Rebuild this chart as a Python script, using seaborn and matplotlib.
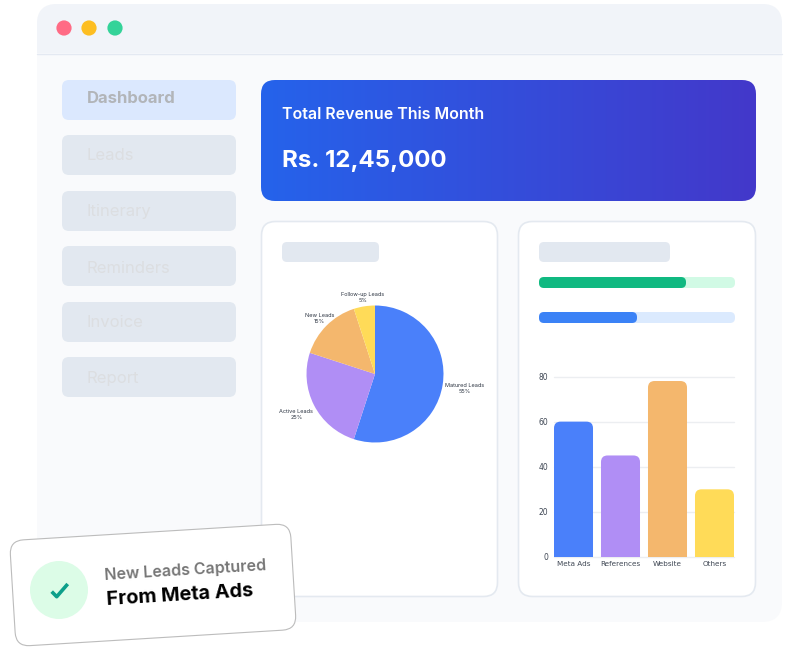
import numpy as np
import matplotlib
matplotlib.use('Agg')
import matplotlib.pyplot as plt
import seaborn as sns
from matplotlib.patches import FancyBboxPatch, Circle, Rectangle
from matplotlib.transforms import Affine2D

# data
menu_items = ['Dashboard', 'Leads', 'Itinerary', 'Reminders', 'Invoice', 'Report']
lead_types = ['Matured Leads', 'Active Leads', 'New Leads', 'Follow-up Leads']
lead_shares = [55, 25, 15, 5]
sources = ['Meta Ads', 'References', 'Website', 'Others']
source_counts = [60, 45, 78, 30]
progress_values = [75, 50]
colors = ['#4a80fa', '#b08ef5', '#f4b76d', '#ffdb58']

sns.set_theme(style='white')
plt.rcParams['font.family'] = ['Inter', 'DejaVu Sans']


def rounded(ax, x0, y0, x1, y1, r, fc, ec='none', lw=0, **kw):
    box = FancyBboxPatch((x0, y0), x1 - x0, y1 - y0, boxstyle=f'round,pad=0,rounding_size={r}',
                         fc=fc, ec=ec, lw=lw, **kw)
    ax.add_patch(box)
    return box


def pixel_axes(fig, zorder):
    a = fig.add_axes([0, 0, 1, 1], zorder=zorder)
    a.set_xlim(0, 790)
    a.set_ylim(650, 0)
    a.axis('off')
    a.patch.set_alpha(0)
    return a


def inset(fig, x0, y0, x1, y1):
    return fig.add_axes([x0 / 790, 1 - y1 / 650, (x1 - x0) / 790, (y1 - y0) / 650], zorder=2)


fig = plt.figure(figsize=(7.9, 6.5), dpi=100, facecolor='white')
bg = pixel_axes(fig, 1)

# window
rounded(bg, 37, 4, 782, 622, 20, '#f9fafc')
head = rounded(bg, 37, 4, 782, 622, 20, '#f1f4f9')
head.set_clip_path(Rectangle((37, 4), 745, 49, transform=bg.transData))
bg.plot([37, 782], [53.5, 53.5], color='#e4e9f2', lw=1)
for cx, c in zip([64, 89, 115], ['#ff6b85', '#fdbe22', '#34d399']):
    bg.add_patch(Circle((cx, 28), 7.6, fc=c, ec='none'))

# sidebar
pill_tops = [80, 135, 191, 246, 302, 357]
baselines = [103, 160, 216, 273, 327, 383]
for i, (name, top, base) in enumerate(zip(menu_items, pill_tops, baselines)):
    rounded(bg, 62, top, 236, top + 40, 7, '#dbe8fe' if i == 0 else '#e2e8f0')
    bg.text(87, base, name, va='baseline', ha='left', fontsize=12,
            color='#b2b5b9' if i == 0 else '#dcdee1', fontweight='bold' if i == 0 else 'normal')

# revenue banner
banner = rounded(bg, 261, 80, 756, 201, 14, 'none')
grad = np.linspace(0, 1, 256).reshape(1, -1)
cmap = matplotlib.colors.LinearSegmentedColormap.from_list('banner', ['#2563eb', '#4338ca'])
im = bg.imshow(grad, extent=(261, 756, 201, 80), cmap=cmap, aspect='auto', zorder=1.5)
im.set_clip_path(banner)
bg.set_xlim(0, 790)
bg.set_ylim(650, 0)
bg.text(282, 114.5, 'Total Revenue This Month', color='white', fontsize=11.5, fontweight='semibold',
        va='center', zorder=3)
bg.text(282, 161.5, 'Rs. 12,45,000', color='white', fontsize=17.3, fontweight='bold',
        va='center', zorder=3)

# cards
rounded(bg, 261.5, 221.5, 497.5, 596.5, 14, 'white', '#e4e9f0', 1.2)
rounded(bg, 518.5, 221.5, 755.5, 596.5, 14, 'white', '#e4e9f0', 1.2)
rounded(bg, 282, 242, 379, 262, 5, '#e2e8f0')
rounded(bg, 539, 242, 670, 262, 5, '#e2e8f0')

# progress bars
for top, val, track, fill in zip([277, 312], progress_values, ['#d1fae5', '#dbeafe'], ['#10b981', '#3b82f6']):
    rounded(bg, 539, top, 735, top + 11, 5, track)
    rounded(bg, 539, top, 539 + 196 * val / 100, top + 11, 5, fill)

# pie
ax_pie = inset(fig, 265, 264, 485, 484)
wedges, _ = ax_pie.pie(lead_shares, colors=colors, startangle=90, counterclock=False, radius=1,
                       wedgeprops={'ec': 'none'})
ax_pie.set_xlim(-1.606, 1.606)
ax_pie.set_ylim(-1.606, 1.606)
label_dist = [1.32, 1.29, 1.15, 1.13]
for w, name, share, d in zip(wedges, lead_types, lead_shares, label_dist):
    ang = np.deg2rad((w.theta1 + w.theta2) / 2)
    ax_pie.text(d * np.cos(ang), d * np.sin(ang), f'{name}\n{share}%', ha='center', va='center',
                fontsize=4, color='#2f3744', linespacing=1.25)

# bars
ax_bar = inset(fig, 554, 376.5, 734, 557)
ax_bar.patch.set_alpha(0)
sns.barplot(x=sources, y=source_counts, hue=sources, palette=colors, legend=False, width=0.83,
            saturation=1, ax=ax_bar, zorder=3)
ax_bar.set_xlim(-0.415, 3.415)
ax_bar.set_ylim(0, 80)
ax_bar.set_yticks([0, 20, 40, 60, 80])
ax_bar.grid(axis='y', color='#eceef1', lw=1)
ax_bar.set_axisbelow(True)
for ln in ax_bar.get_ygridlines():
    ln.set_clip_on(False)
for s in ax_bar.spines.values():
    s.set_visible(False)
ax_bar.tick_params(axis='both', length=0, labelcolor='#3f4754')
ax_bar.tick_params(axis='x', pad=3, labelsize=5.2)
ax_bar.tick_params(axis='y', pad=4, labelsize=5.5)
for lab in ax_bar.get_xticklabels() + ax_bar.get_yticklabels():
    lab.set_fontfamily('DejaVu Sans')
y_scale = (1 / 3.83 * 180) / (180.5 / 80)
for p in list(ax_bar.patches):
    h = p.get_height()
    box = FancyBboxPatch((p.get_x(), -10), p.get_width(), h + 10,
                         boxstyle='round,pad=0,rounding_size=0.14', mutation_aspect=y_scale,
                         fc=p.get_facecolor(), ec='none', zorder=3)
    p.set_visible(False)
    ax_bar.add_patch(box)

# toast card on top of everything
top = pixel_axes(fig, 3)
tilt = Affine2D().rotate_deg_around(153, 585, -3.5) + top.transData
toast = FancyBboxPatch((12.5, 532), 281, 106, boxstyle='round,pad=0,rounding_size=14',
                       fc='white', ec='#bcbcbc', lw=0.8, transform=tilt)
top.add_patch(toast)
top.add_patch(Circle((59, 590), 29, fc='#dcfce7', ec='none'))
top.plot([51.7, 56.7, 67.7], [591.6, 596.7, 584], color='#0d9f8a', lw=2.6, solid_capstyle='butt')
top.text(105, 580, 'New Leads Captured', color='#767676', fontsize=11.5, fontweight='semibold',
         rotation=3.5, rotation_mode='anchor', va='baseline')
top.text(107, 605, 'From Meta Ads', color='black', fontsize=14.3, fontweight='bold',
         rotation=3.5, rotation_mode='anchor', va='baseline')

fig.savefig('out.png', dpi=100)
